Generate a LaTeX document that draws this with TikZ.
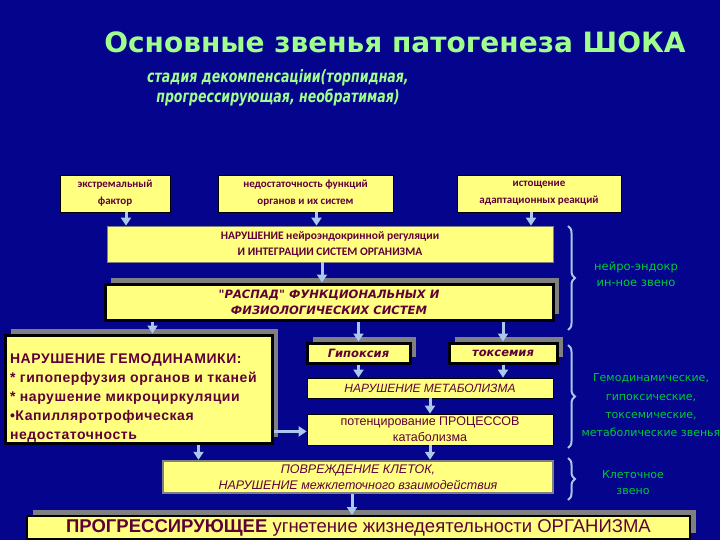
\documentclass[tikz,border=0pt]{standalone}
\usepackage{fontspec}
\setmainfont{Liberation Sans}
\newfontfamily\titlefont{DejaVu Sans}
\newfontfamily\condfont[FakeStretch=0.82]{DejaVu Sans Condensed}
\newfontfamily\hemofont[LetterSpace=4]{Liberation Sans}
\newfontfamily\boxfont{Carlito}
\usetikzlibrary{arrows.meta,shadows,decorations.pathreplacing}

\definecolor{slideblue}{RGB}{4,4,140}
\definecolor{boxyellow}{RGB}{255,255,128}
\definecolor{inkmaroon}{RGB}{96,0,56}
\definecolor{linkblue}{RGB}{170,200,235}
\definecolor{labelgreen}{RGB}{0,200,60}
\definecolor{titlegreen}{RGB}{160,255,140}

\tikzset{
  ybox/.style={fill=boxyellow, draw=black, line width=0.8pt, text=inkmaroon,
    align=center, inner sep=0pt},
  heavybox/.style={ybox, line width=3pt,
    drop shadow={shadow xshift=6pt, shadow yshift=6pt, fill=gray, opacity=1}},
  link/.style={draw=linkblue, line width=3pt, -{Triangle[length=8pt,width=10pt]}},
  linkbrace/.style={draw=linkblue, line width=2pt, decorate,
    decoration={brace, amplitude=7pt}},
  zveno/.style={text=labelgreen, align=center},
}

\begin{document}
\begin{tikzpicture}[x=1pt, y=-1pt]

  % Slide background
  \fill[slideblue] (0,0) rectangle (720,540);
  \useasboundingbox (0,0) rectangle (720,540);

  % Title and subtitle
  \node[text=titlegreen, font=\titlefont\bfseries\fontsize{28}{30}\selectfont] (title) at (395,42)
    {Основные звенья патогенеза ШОКА};
  \node[text=titlegreen, align=center, font=\condfont\bfseries\itshape\fontsize{17}{20}\selectfont] (subtitle) at (278,88)
    {стадия декомпенсацiии(торпидная,\\ прогрессирующая, необратимая)};

  % Causes
  \node[ybox, minimum width=110, minimum height=37, font=\boxfont\bfseries\fontsize{11}{17}\selectfont] (factor) at (115,193.5)
    {экстремальный\\ фактор};
  \node[ybox, minimum width=175, minimum height=37, font=\boxfont\bfseries\fontsize{11}{17}\selectfont] (organs) at (305.5,193.5)
    {недостаточность функций\\ органов и их систем};
  \node[ybox, minimum width=164, minimum height=37, font=\boxfont\bfseries\fontsize{11}{17}\selectfont] (adapt) at (539,193.5)
    {истощение\\ адаптационных реакций};

  % Neuro-endocrine level
  \node[ybox, draw=gray, minimum width=446, minimum height=36, font=\boxfont\bfseries\fontsize{11.5}{16}\selectfont] (neuro) at (330,244)
    {НАРУШЕНИЕ нейроэндокринной регуляции\\ И ИНТЕГРАЦИИ СИСТЕМ ОРГАНИЗМА};
  \node[heavybox, minimum width=448, minimum height=36, font=\titlefont\bfseries\itshape\fontsize{11.5}{16}\selectfont] (raspad) at (329,302)
    {"РАСПАД" ФУНКЦИОНАЛЬНЫХ И\\ ФИЗИОЛОГИЧЕСКИХ СИСТЕМ};

  % Haemodynamics, hypoxia, toxaemia, metabolism
  \node[heavybox, minimum width=267, minimum height=108] (hemo) at (138.5,389) {};
  \node[text=inkmaroon, align=left, anchor=west, font=\hemofont\bfseries\fontsize{14}{19}\selectfont]
    (hemotext) at ([xshift=3pt, yshift=-9pt]hemo.west)
    {НАРУШЕНИЕ ГЕМОДИНАМИКИ:\\ * гипоперфузия органов и тканей\\ * нарушение микроциркуляции\\
     •Капилляротрофическая\\ недостаточность};
  \node[heavybox, minimum width=103, minimum height=20, font=\titlefont\bfseries\itshape\fontsize{11.5}{14}\selectfont] (hypox) at (358.5,353)
    {Гипоксия};
  \node[heavybox, minimum width=108, minimum height=20, font=\titlefont\bfseries\itshape\fontsize{11.5}{14}\selectfont] (toxem) at (503,353)
    {токсемия};
  \node[ybox, minimum width=246, minimum height=20, font=\itshape\fontsize{12}{14}\selectfont] (metab) at (430,388)
    {НАРУШЕНИЕ МЕТАБОЛИЗМА};
  \node[ybox, minimum width=246, minimum height=31, font=\fontsize{12.5}{16}\selectfont] (poten) at (430,429.5)
    {потенцирование ПРОЦЕССОВ\\ катаболизма};

  % Cellular level and outcome
  \node[ybox, draw=gray, line width=2.5pt, minimum width=390, minimum height=32, font=\itshape\fontsize{12.5}{16}\selectfont] (damage) at (358,477)
    {ПОВРЕЖДЕНИЕ КЛЕТОК,\\ НАРУШЕНИЕ межклеточного взаимодействия};
  \node[heavybox, line width=2pt, minimum width=663, minimum height=23, font=\fontsize{18.5}{20}\selectfont] (outcome) at (358.5,527.5)
    {\textbf{ПРОГРЕССИРУЮЩЕЕ} угнетение жизнедеятельности ОРГАНИЗМА};

  % Arrows
  \draw[link] ([xshift=11pt]factor.south) -- ([xshift=11pt]factor.south |- neuro.north);
  \draw[link] ([xshift=11pt]organs.south) -- ([xshift=11pt]organs.south |- neuro.north);
  \draw[link] ([xshift=-8pt]adapt.south) -- ([xshift=-8pt]adapt.south |- neuro.north);
  \draw[link] ([xshift=-8pt]neuro.south) -- ([xshift=-8pt]neuro.south |- raspad.north);
  \draw[link] ([xshift=14pt]hemo.north |- raspad.south) -- ([xshift=14pt]hemo.north);
  \draw[link] (hypox.north |- raspad.south) -- (hypox.north);
  \draw[link] (toxem.north |- raspad.south) -- (toxem.north);
  \draw[link] (hypox.south) -- (hypox.south |- metab.north);
  \draw[link] (toxem.south) -- (toxem.south |- metab.north);
  \draw[link] (metab.south) -- (poten.north);
  \draw[link] (hemo.east |- poten.south west) ++(0,-14) coordinate (hemoout) -- (hemoout -| poten.west);
  \draw[link] ([xshift=60pt]hemo.south) -- ([xshift=60pt]hemo.south |- damage.north);
  \draw[link] (poten.south) -- (poten.south |- damage.north);
  \draw[link] ([xshift=-6pt]damage.south) -- ([xshift=-6pt]damage.south |- outcome.north);

  % Braces and level labels
  \draw[linkbrace] (568,226) -- (568,330);
  \draw[linkbrace] (568,345) -- (568,448);
  \draw[linkbrace] (568,458) -- (568,500);

  \node[zveno, font=\titlefont\fontsize{11.5}{16}\selectfont] (neurolabel) at (636,274)
    {нейро-эндокр\\ ин-ное звено};
  \node[zveno, font=\titlefont\fontsize{11}{18.3}\selectfont] (hemolabel) at (651,405.5)
    {Гемодинамические,\\ гипоксические,\\ токсемические,\\ метаболические звенья};
  \node[zveno, font=\titlefont\fontsize{11}{15.5}\selectfont] (celllabel) at (633,482.5)
    {Клеточное\\ звено};

\end{tikzpicture}
\end{document}
